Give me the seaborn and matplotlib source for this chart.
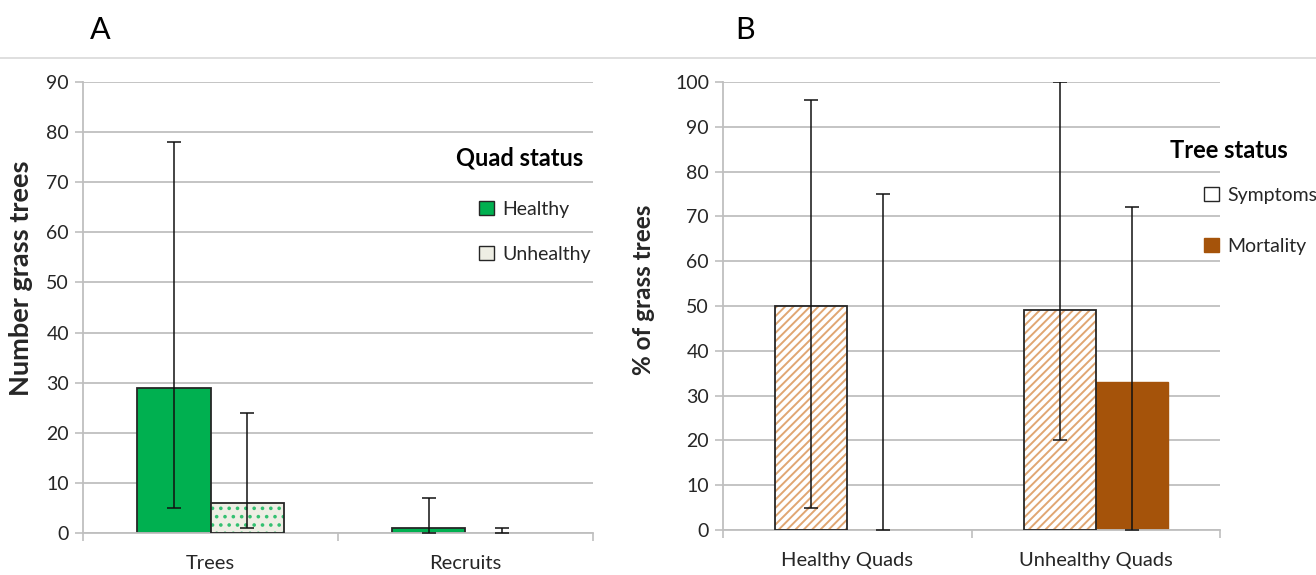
import matplotlib
matplotlib.use("Agg")
import matplotlib.pyplot as plt
import matplotlib.patches as mpatches
from matplotlib.lines import Line2D
import seaborn as sns
import pandas as pd
import numpy as np

# ---------------- data ----------------
a_categories = ["Trees", "Recruits"]
a_hues = ["Healthy", "Unhealthy"]
a_healthy = [29, 1]
a_unhealthy = [6, 0]
a_healthy_lo = [5, 0]
a_healthy_hi = [78, 7]
a_unhealthy_lo = [1, 0]
a_unhealthy_hi = [24, 1]
a_yticks = [0, 10, 20, 30, 40, 50, 60, 70, 80, 90]

b_categories = ["Healthy Quads", "Unhealthy Quads"]
b_hues = ["Symptoms", "Mortality"]
b_symptoms = [50, 49]
b_mortality = [0, 33]
b_symptoms_lo = [5, 20]
b_symptoms_hi = [96, 100]
b_mortality_lo = [0, 0]
b_mortality_hi = [75, 72]
b_yticks = [0, 10, 20, 30, 40, 50, 60, 70, 80, 90, 100]

# ---------------- style ----------------
sns.set_theme(style="white")
plt.rcParams["font.family"] = ["Lato", "DejaVu Sans"]
plt.rcParams["hatch.linewidth"] = 1.4

GREEN = "#00B050"
BEIGE = "#EEEEE4"
BROWN = "#A5530A"
HATCH_BROWN = "#E0A672"
GRID = "#BFBFBF"

W, H = 1316, 575
fig = plt.figure(figsize=(W / 100, H / 100), dpi=100)
axA = fig.add_axes([83 / W, 1 - 533 / H, 510 / W, 451 / H])
axB = fig.add_axes([723 / W, 1 - 530 / H, 497 / W, 448 / H])


def style_axes(ax, yticks, ylabel, lsize, lx, ly):
    ax.set_ylim(yticks[0], yticks[-1])
    ax.set_yticks(yticks)
    ax.yaxis.grid(True, color=GRID, linewidth=1.3)
    ax.set_axisbelow(True)
    for s in ["top", "right"]:
        ax.spines[s].set_visible(False)
    for s in ["left", "bottom"]:
        ax.spines[s].set_color(GRID)
        ax.spines[s].set_linewidth(1.3)
    ax.tick_params(axis="y", which="major", left=True, length=6, color=GRID,
                   width=1.2, labelsize=14, labelcolor="#262626", pad=4)
    ax.tick_params(axis="x", which="major", bottom=False, labelsize=14.5,
                   labelcolor="#262626", pad=10)
    ax.set_xlim(-0.5, 1.5)
    ax.set_xticks([-0.5, 0.5, 1.5], minor=True)
    ax.tick_params(axis="x", which="minor", bottom=True, length=6, color=GRID, width=1.2)
    ax.set_xlabel("")
    ax.set_ylabel(ylabel, fontsize=lsize, fontweight="bold")
    ax.yaxis.set_label_coords(lx / W, 1 - ly / H, transform=fig.transFigure)


def outline(ax, patch):
    r = mpatches.Rectangle(patch.get_xy(), patch.get_width(), patch.get_height(),
                           fill=False, edgecolor="#262626", linewidth=1.3, zorder=3)
    ax.add_patch(r)


def errbars(ax, container, lo, hi):
    for p, l, h in zip(container.patches, lo, hi):
        x = p.get_x() + p.get_width() / 2
        v = p.get_height()
        ax.errorbar([x], [v], yerr=[[v - l], [h - v]], fmt="none", ecolor="#111111",
                    elinewidth=1.1, capsize=5, capthick=1.1, zorder=4)


def legend_at(ax, handles, labels, x, y, spacing):
    leg = ax.legend(handles, labels, loc="upper left", bbox_to_anchor=(x / W, 1 - y / H),
                    bbox_transform=fig.transFigure, frameon=False, fontsize=14,
                    handlelength=0.75, handleheight=0.75, handletextpad=0.45,
                    labelspacing=spacing, borderpad=0, borderaxespad=0)
    return leg


# ---------------- Panel A ----------------
dfA = pd.DataFrame({
    "cat": a_categories * 2,
    "status": [a_hues[0]] * 2 + [a_hues[1]] * 2,
    "val": a_healthy + a_unhealthy,
})
sns.barplot(data=dfA, x="cat", y="val", hue="status", order=a_categories,
            hue_order=a_hues, palette=[GREEN, BEIGE], saturation=1, width=0.58,
            errorbar=None, legend=False, ax=axA, zorder=2)
cA_h, cA_u = axA.containers[0], axA.containers[1]
for p in cA_h.patches:
    p.set_facecolor(GREEN)
    p.set_edgecolor("#262626")
    p.set_linewidth(1.3)
for p in cA_u.patches:
    p.set_facecolor(BEIGE)
    p.set_edgecolor("#33C070")
    p.set_hatch("..")
    p.set_linewidth(0)
    if p.get_height() > 0:
        outline(axA, p)
errbars(axA, cA_h, a_healthy_lo, a_healthy_hi)
errbars(axA, cA_u, a_unhealthy_lo, a_unhealthy_hi)
style_axes(axA, a_yticks, "Number grass trees", 19.5, 33, 278)

hA1 = mpatches.Patch(facecolor=GREEN, edgecolor="#262626", linewidth=1.0)
hA2 = mpatches.Patch(facecolor=BEIGE, edgecolor="#262626", linewidth=1.0)
legend_at(axA, [hA1, hA2], a_hues, 479, 201, 1.42)
fig.text(520 / W, 1 - 158 / H, "Quad status", fontsize=17, fontweight="bold",
         ha="center", va="center", color="black")

# ---------------- Panel B ----------------
dfB = pd.DataFrame({
    "cat": b_categories * 2,
    "status": [b_hues[0]] * 2 + [b_hues[1]] * 2,
    "val": b_symptoms + b_mortality,
})
sns.barplot(data=dfB, x="cat", y="val", hue="status", order=b_categories,
            hue_order=b_hues, palette=["white", BROWN], saturation=1, width=0.58,
            errorbar=None, legend=False, ax=axB, zorder=2)
cB_s, cB_m = axB.containers[0], axB.containers[1]
for p in cB_s.patches:
    p.set_facecolor("white")
    p.set_edgecolor(HATCH_BROWN)
    p.set_hatch("////")
    p.set_linewidth(0)
    outline(axB, p)
for p in cB_m.patches:
    p.set_facecolor(BROWN)
    p.set_edgecolor(BROWN)
    p.set_linewidth(1.0)
errbars(axB, cB_s, b_symptoms_lo, b_symptoms_hi)
errbars(axB, cB_m, b_mortality_lo, b_mortality_hi)
style_axes(axB, b_yticks, "% of grass trees", 17.5, 655, 290)

hB1 = mpatches.Patch(facecolor="white", edgecolor="#262626", linewidth=1.0)
hB2 = mpatches.Patch(facecolor=BROWN, edgecolor=BROWN, linewidth=1.0)
legend_at(axB, [hB1, hB2], b_hues, 1204, 187, 1.75)
fig.text(1229 / W, 1 - 150 / H, "Tree status", fontsize=17, fontweight="bold",
         ha="center", va="center", color="black")

# ---------------- panel letters & separator ----------------
fig.text(100 / W, 1 - 30 / H, "A", fontsize=22, ha="center", va="center", color="black")
fig.text(745 / W, 1 - 30 / H, "B", fontsize=22, ha="center", va="center", color="black")
fig.add_artist(Line2D([0, 1], [1 - 58 / H, 1 - 58 / H], transform=fig.transFigure,
                      color="#D9D9D9", linewidth=1.2))

fig.savefig("out.png", dpi=100)
